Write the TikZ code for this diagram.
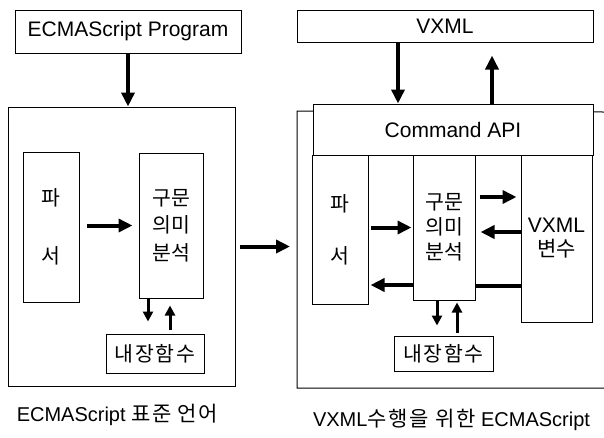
\documentclass[tikz,border=0pt]{standalone}
\usepackage{fontspec}
\setmainfont{Liberation Sans}
\newfontfamily\kr{Noto Sans CJK KR}
\newfontfamily\krw[LetterSpace=8]{Noto Sans CJK KR}
\usetikzlibrary{arrows.meta}
\begin{document}
\begin{tikzpicture}[x=1pt,y=-1pt,
  font=\fontsize{21}{24}\selectfont,
  box/.style={draw, line width=1pt, fill=white, inner sep=0pt},
  kor/.style={font=\kr\fontsize{20.5}{24}\selectfont},
  captext/.style={font=\fontsize{20}{23}\selectfont},
  big/.style={line width=4pt, -{Triangle[width=13pt,length=14pt]}},
  bar/.style={line width=4pt},
  small/.style={line width=3pt, -{Triangle[width=10pt,length=10pt]}}]
\useasboundingbox (0,0) rectangle (604,437);

% ---------- left ----------
\node[box, minimum width=226pt, minimum height=43pt] (prog) at (128,31.5) {ECMAScript Program};
\node[box, minimum width=227pt, minimum height=279pt] (lbox) at (121.5,246.5) {};
\node[box, kor, align=center, minimum width=56pt, minimum height=150pt] (lpa) at (51,227) {파\\[34pt]서};
\node[box, kor, align=center, minimum width=64pt, minimum height=145pt] (lgu) at (171,225.5) {구문\\[3.5pt]의미\\[3.5pt]분석};
\node[box, font=\krw\fontsize{20.5}{24}\selectfont, minimum width=98pt, minimum height=39pt] (lnz) at (155,353.5) {내장함수};
\node[captext] (lcap) at (117.5,415) {ECMAScript {\krw\fontsize{21}{23}\selectfont 표준 언어}};

\draw[big] (prog.south) -- (prog.south |- lbox.north);
\draw[big, shorten <=7pt, shorten >=6pt] (lpa.east |- lgu.west) -- (lgu.west);
\draw[small, shorten >=12pt] ([xshift=-23pt]lgu.south) -- ([xshift=-23pt]lgu.south |- lnz.north);
\draw[small, shorten <=4pt, shorten >=7pt] ([xshift=-1pt]lgu.south |- lnz.north) -- ([xshift=-1pt]lgu.south);

% ---------- middle ----------
\coordinate (rw) at (297,246.5);
\draw[big, shorten <=4pt, shorten >=7pt] (lbox.east) -- (rw);

% ---------- right ----------
\coordinate (rtr) at (604,112);
\coordinate (rtl) at (297,111);
\coordinate (rbl) at (297,388);
\coordinate (rbr) at (604,388);
\draw[line width=1pt] (rtr) -- (rtl) -- (rbl) -- (rbr);

\node[box, minimum width=296pt, minimum height=32pt] (vxml) at (445,26) {VXML};
\node[box, minimum width=280pt, minimum height=51pt] (cmd) at (453,129.5) {Command API};
\node[box, kor, align=center, minimum width=56pt, minimum height=149pt] (rpa) at (340,229.5) {파\\[28pt]서};
\node[box, kor, align=center, minimum width=62pt, minimum height=145pt] (rgu) at (444,227.5) {구문\\[1pt]의미\\[1pt]분석};
\node[box, align=center, minimum width=71pt, minimum height=167pt] (rvx) at (556.5,238.5) {VXML\\{\kr 변수}};
\node[box, font=\krw\fontsize{20.5}{24}\selectfont, minimum width=99pt, minimum height=35pt] (rnz) at (443.5,353.5) {내장함수};
\node[captext] (rcap) at (451.5,420) {VXML{\krw\fontsize{21}{23}\selectfont 수행을 위한} ECMAScript};

\draw[big] ([xshift=-47pt]vxml.south) -- ([xshift=-47pt]vxml.south |- cmd.north);
\draw[big, shorten >=13pt] ([xshift=47pt]vxml.south |- cmd.north) -- ([xshift=47pt]vxml.south);

\draw[big, shorten <=2pt, shorten >=1pt] (rpa.east |- rgu.west) -- (rgu.west);
\draw[big, shorten <=4pt, shorten >=4pt] (rgu.east |- 0,197) -- (rvx.west |- 0,197);
\draw[big, shorten >=5pt] (rvx.west |- 0,232) -- (rgu.east |- 0,232);
\draw[big, shorten >=2pt] (rgu.west |- 0,285) -- (rpa.east |- 0,285);
\draw[bar] (rvx.west |- 0,286) -- (rgu.east |- 0,286);

\draw[small, shorten >=10pt] ([xshift=-7pt]rgu.south) -- ([xshift=-7pt]rgu.south |- rnz.north);
\draw[small, shorten <=3pt, shorten >=2pt] ([xshift=13pt]rgu.south |- rnz.north) -- ([xshift=13pt]rgu.south);
\end{tikzpicture}
\end{document}
